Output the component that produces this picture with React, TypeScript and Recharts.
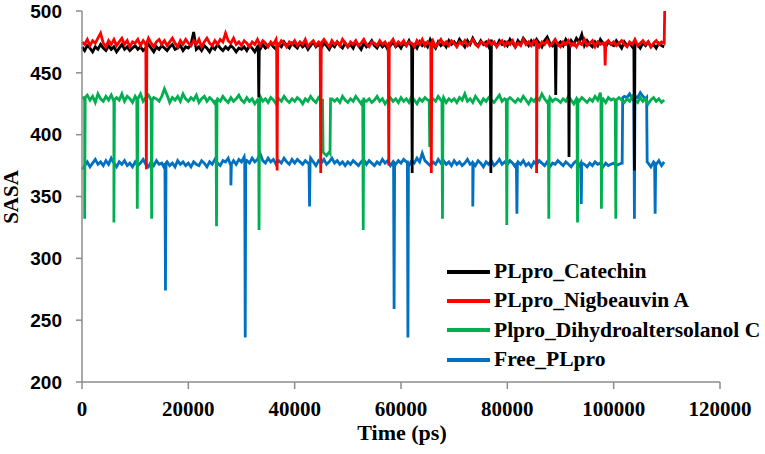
import React from "react";
import { LineChart, Line, XAxis, YAxis, Label } from "recharts";

// Sampling step of the baseline traces (ps)
const STEP = 500;

const xTicks = [0, 20000, 40000, 60000, 80000, 100000, 120000];
const yTicks = [200, 250, 300, 350, 400, 450, 500];

// PLpro_Catechin baseline, every 500 ps from 0 to 109500
const catechinBase = [
  471,468,472,470,467,471,469,473,470,468,472,469,471,467,470,473,469,471,468,470,
  472,469,471,468,470,473,470,467,471,469,472,470,468,471,473,469,470,472,468,471,
  470,473,483,469,471,468,472,470,467,471,469,473,470,468,471,469,472,470,467,470,
  469,471,468,472,470,467,471,469,473,470,472,474,471,469,473,471,475,472,470,474,
  472,470,474,471,473,469,472,475,471,473,470,474,472,469,473,471,475,472,470,474,
  471,473,470,475,472,469,474,471,473,476,472,470,474,471,473,469,472,475,471,473,
  470,474,472,476,471,473,470,475,472,474,471,477,473,470,475,472,474,471,476,473,
  475,472,477,474,471,476,473,478,474,472,476,473,475,471,477,474,472,476,473,475,
  472,477,474,471,476,473,478,475,472,476,473,477,474,471,476,479,474,472,476,473,
  475,472,477,474,476,473,478,475,481,472,476,473,471,475,472,477,474,471,475,473,
  472,476,473,470,475,472,474,471,476,473,470,474,472,475,471,473,470,474,472,471,
];
// [time, depth, level]
const catechinSpikes = [
  [33250, 430, 470],
  [62100, 369, 472],
  [76900, 369, 474],
  [89100, 432, 474],
  [91600, 382, 473],
  [103900, 371, 473],
];

// PLpro_Nigbeauvin A baseline
const nigbeauvinBase = [
  475,473,477,472,476,474,478,482,474,471,476,473,477,472,475,478,473,476,471,475,
  474,477,472,476,473,478,474,471,475,477,473,476,472,475,478,474,471,476,473,477,
  474,472,476,473,477,471,475,478,474,472,476,473,477,475,482,476,474,478,473,475,
  472,476,474,471,475,473,477,472,476,474,471,475,473,477,472,476,474,471,475,473,
  476,472,475,473,477,471,474,476,472,475,473,477,474,471,476,473,475,472,477,474,
  471,475,473,476,472,474,477,473,471,475,474,472,476,473,475,471,474,477,472,475,
  473,476,472,475,474,471,476,473,477,472,475,473,476,471,474,477,473,475,472,476,
  474,471,475,473,476,472,474,477,473,471,475,474,472,476,473,475,471,474,476,472,
  475,473,476,471,474,472,477,473,475,472,476,474,471,475,473,476,472,474,477,473,
  471,475,473,476,472,474,471,475,473,477,472,474,476,471,475,473,474,472,476,473,
  475,472,474,476,473,471,475,473,477,472,474,476,473,475,471,474,476,473,475,474,
];
const nigbeauvinSpikes = [
  [12100, 372, 474],
  [36700, 371, 474],
  [44900, 369, 474],
  [57700, 375, 474],
  [65700, 369, 474],
  [85500, 369, 474],
  [98400, 456, 474],
];
const nigbeauvinEnd = [[109600, 500]];

// Plpro_Dihydroaltersolanol C baseline
const dihydroBase = [
  430,427,432,428,431,426,433,429,427,431,428,432,426,430,428,433,427,431,429,426,
  431,428,433,427,430,432,428,430,429,427,431,437,432,426,430,428,431,427,433,429,
  427,430,428,432,426,429,431,427,430,428,425,429,427,431,428,426,430,427,429,432,
  428,426,430,427,429,425,428,431,427,429,426,430,428,425,429,427,431,428,426,429,
  427,430,428,425,429,427,431,428,426,430,428,385,383,386,429,427,429,426,431,428,
  426,429,427,431,428,425,430,427,429,426,428,431,427,429,425,428,430,427,429,426,
  430,427,429,426,431,428,425,429,427,430,428,426,429,427,431,428,430,426,429,427,
  429,426,430,428,433,427,429,426,431,428,425,429,427,430,428,426,429,432,427,429,
  427,430,428,426,429,427,431,428,425,429,427,430,428,433,429,426,430,427,429,428,
  426,429,427,431,428,425,429,427,430,428,426,429,427,431,428,434,429,426,430,428,
  429,427,430,428,426,429,427,431,428,426,430,427,429,425,428,430,427,429,426,428,
];
const dihydroSpikes = [
  [500, 332, 430],
  [6000, 329, 428],
  [10400, 340, 429],
  [13100, 332, 428],
  [25300, 326, 428],
  [33300, 323, 427],
  [52900, 323, 428],
  [65400, 390, 428],
  [67800, 332, 428],
  [79900, 327, 428],
  [87800, 332, 428],
  [93200, 329, 428],
  [97700, 340, 428],
  [100400, 332, 428],
];
const dihydroEdges = [
  [45250, 428],
  [45350, 386],
  [46650, 385],
  [46750, 429],
];

// Free_PLpro baseline
const freeBase = [
  372,375,378,374,377,380,376,378,375,379,376,381,377,374,378,376,379,375,377,374,
  378,375,377,380,376,374,378,375,379,376,377,373,378,375,377,374,379,376,378,375,
  377,374,378,376,375,379,377,374,378,376,380,377,375,379,378,381,377,379,376,380,
  378,382,379,377,381,378,380,385,379,377,381,378,380,376,379,377,381,378,376,380,
  377,380,378,376,379,377,381,378,375,379,377,380,376,378,381,377,379,376,378,375,
  378,376,379,377,375,378,380,376,379,377,375,378,376,380,377,379,375,378,376,379,
  377,380,378,375,379,377,381,378,385,379,377,375,378,376,380,377,379,376,378,375,
  379,376,378,375,377,380,376,378,375,379,377,374,378,376,379,375,377,380,376,378,
  376,379,377,374,378,376,379,375,377,374,378,376,379,377,375,378,374,377,376,379,
  377,375,378,376,374,377,379,375,378,376,374,377,375,378,376,377,374,377,375,376,
  377,375,376,377,431,430,433,429,432,430,434,431,429,377,374,378,376,379,375,378,
];
const freeSpikes = [
  [15700, 274, 377],
  [28000, 359, 376],
  [30700, 236, 378],
  [42800, 342, 377],
  [58700, 259, 377],
  [61300, 236, 378],
  [73500, 342, 377],
  [81800, 336, 377],
  [93900, 344, 377],
  [103900, 332, 431],
  [107800, 336, 377],
];
const freeEdges = [
  [101600, 377],
  [101700, 430],
  [106200, 430],
  [106300, 378],
];

type Pt = { t: number; v: number };

function build(base: number[], spikes: number[][], extra: number[][] = []): Pt[] {
  const pts: Pt[] = base.map((v, i) => ({ t: i * STEP, v }));
  spikes.forEach(([t, d, lvl]) => {
    pts.push({ t: t - 100, v: lvl }, { t, v: d }, { t: t + 100, v: lvl });
  });
  extra.forEach(([t, v]) => pts.push({ t, v }));
  pts.sort((a, b) => a.t - b.t);
  return pts;
}

const catechinData = build(catechinBase, catechinSpikes);
const nigbeauvinData = build(nigbeauvinBase, nigbeauvinSpikes, nigbeauvinEnd);
const dihydroData = build(dihydroBase, dihydroSpikes, dihydroEdges);
const freeData = build(freeBase, freeSpikes, freeEdges);

const legendItems = [
  { name: "PLpro_Catechin", color: "#000000" },
  { name: "PLpro_Nigbeauvin A", color: "#ff0000" },
  { name: "Plpro_Dihydroaltersolanol C", color: "#00b050" },
  { name: "Free_PLpro", color: "#0070c0" },
];

const serif = "'Liberation Serif', 'Times New Roman', serif";
const sans = "'Liberation Sans', Arial, sans-serif";
const axisColor = "#8c8c8c";
const LW = 2.8;

export default function App() {
  return (
    <div style={{ position: "absolute", left: 0, top: 0, width: 765, height: 454, background: "#fff" }}>
      <LineChart width={765} height={454} margin={{ top: 11, right: 45, bottom: 42, left: 0 }}>
        <XAxis
          type="number"
          dataKey="t"
          domain={[0, 120000]}
          ticks={xTicks}
          allowDuplicatedCategory={false}
          height={30}
          stroke={axisColor}
          strokeWidth={1.5}
          tickSize={7}
          tickMargin={12}
          tick={{ fill: "#000", fontFamily: serif, fontWeight: "bold", fontSize: 21 }}
          tickLine={{ stroke: axisColor, strokeWidth: 1.5 }}
        >
          <Label
            content={() => (
              <text x={402} y={440} textAnchor="middle" fontFamily={serif} fontWeight="bold" fontSize={22} fill="#000">
                Time (ps)
              </text>
            )}
          />
        </XAxis>
        <YAxis
          type="number"
          dataKey="v"
          domain={[200, 500]}
          ticks={yTicks}
          width={82}
          stroke={axisColor}
          strokeWidth={1.5}
          tickSize={6}
          tickMargin={14}
          tick={{ fill: "#000", fontFamily: sans, fontWeight: "bold", fontSize: 19 }}
          tickLine={{ stroke: axisColor, strokeWidth: 1.5 }}
        >
          <Label
            content={() => (
              <text
                x={18}
                y={197}
                transform="rotate(-90 18 197)"
                textAnchor="middle"
                fontFamily={serif}
                fontWeight="bold"
                fontSize={21}
                fill="#000"
              >
                SASA
              </text>
            )}
          />
        </YAxis>
        <Line data={freeData} dataKey="v" type="linear" stroke="#0070c0" strokeWidth={LW} dot={false} isAnimationActive={false} name="Free_PLpro" />
        <Line data={dihydroData} dataKey="v" type="linear" stroke="#00b050" strokeWidth={LW} dot={false} isAnimationActive={false} name="Plpro_Dihydroaltersolanol C" />
        <Line data={catechinData} dataKey="v" type="linear" stroke="#000000" strokeWidth={LW} dot={false} isAnimationActive={false} name="PLpro_Catechin" />
        <Line data={nigbeauvinData} dataKey="v" type="linear" stroke="#ff0000" strokeWidth={LW} dot={false} isAnimationActive={false} name="PLpro_Nigbeauvin A" />
      </LineChart>
      <div style={{ position: "absolute", left: 447, top: 257, width: 318 }}>
        {legendItems.map((it) => (
          <div key={it.name} style={{ display: "flex", alignItems: "center", height: 29.3 }}>
            <div style={{ width: 43, height: 4, background: it.color, marginRight: 4, flex: "none" }} />
            <span
              style={{
                fontFamily: serif,
                fontWeight: "bold",
                fontSize: 21.5,
                color: "#000",
                whiteSpace: "nowrap",
              }}
            >
              {it.name}
            </span>
          </div>
        ))}
      </div>
    </div>
  );
}
